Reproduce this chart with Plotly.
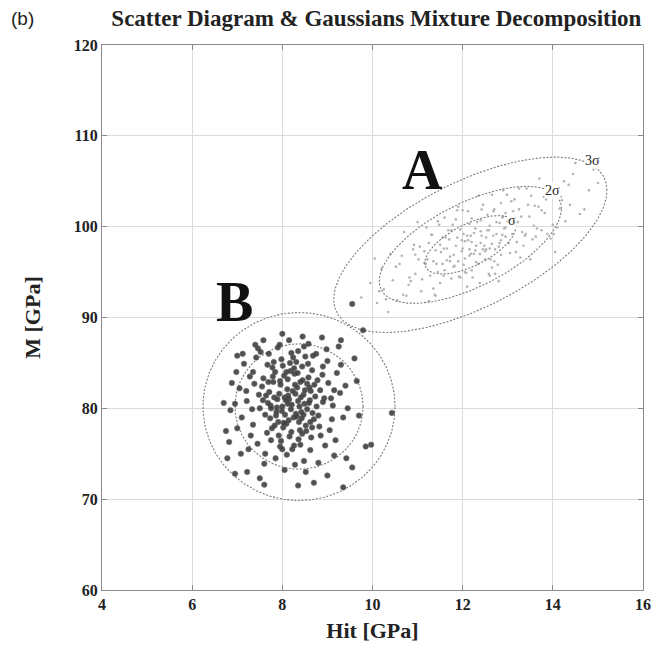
import numpy as np
import plotly.graph_objects as go

# ---------------- data ----------------
# cluster A (light gray points)
A_hit = [12.20, 12.05, 12.40, 11.85, 12.65, 11.60, 12.90, 11.95, 12.30, 12.75,
         11.40, 13.10, 12.15, 12.55, 11.75, 12.85, 11.25, 13.30, 12.00, 12.45,
         12.10, 12.35, 11.90, 12.60, 12.25, 11.70, 12.80, 12.50, 11.80, 13.00,
         12.15, 12.70, 11.55, 13.20, 12.40, 11.65, 12.95, 12.05, 12.55, 11.45,
         13.45, 10.95, 13.65, 10.80, 13.80, 11.10, 13.55, 10.60, 14.00, 11.30,
         13.15, 11.05, 12.65, 10.75, 13.90, 11.50, 14.20, 10.45, 13.35, 11.20,
         12.85, 11.35, 13.75, 10.90, 14.35, 10.30, 13.05, 11.85, 12.20, 12.95,
         13.60, 10.65, 14.10, 11.15, 12.45, 11.75, 13.40, 10.85, 12.70, 11.95,
         10.20, 14.60, 10.10, 14.45, 9.95, 14.80, 10.40, 13.95, 10.55, 14.25,
         11.00, 13.25, 11.60, 12.35, 12.80, 11.40, 13.50, 12.00, 12.60, 11.90,
         13.70, 10.70, 14.05, 11.25, 12.90, 10.35, 14.50, 12.10, 13.85, 11.55,
         12.25, 12.50, 11.65, 12.75, 12.30, 11.80, 12.95, 12.15, 12.40, 13.15,
         11.35, 12.60, 12.05, 11.50, 13.25, 10.95, 13.75, 11.15, 12.85, 12.20,
         9.75, 15.00, 10.05, 14.70, 10.25, 14.90, 14.15, 11.45, 12.65, 10.15,
         12.12, 12.48, 11.88, 12.72, 12.28, 11.72, 12.58, 12.02, 12.92, 11.52,
         12.38, 12.18, 11.98, 12.82, 12.62, 11.62, 13.02, 12.32, 11.82, 12.52,
         13.22, 11.42, 12.68, 12.08, 13.38, 11.22, 12.88, 11.68, 13.12, 11.92,
         12.42, 12.78, 11.78, 13.48, 12.22, 11.58, 13.08, 12.58, 11.32, 13.62,
         10.82, 14.18, 11.08, 13.88, 10.52, 14.38, 10.68, 13.52, 11.28, 14.02,
         12.98, 11.48, 13.28, 12.12, 12.72, 11.18, 13.68, 12.38, 11.88, 13.18,
         10.92, 14.28, 11.38, 13.42, 12.28, 12.88, 11.58, 13.82, 12.52, 11.02,
         13.32, 12.02, 12.68, 11.72, 13.58, 12.18, 12.82, 11.98, 13.02, 12.42]
A_m = [98.3, 96.5, 99.5, 97.9, 98.1, 95.2, 101.1, 99.7, 96.1, 99.2,
       97.4, 99.2, 97.5, 101.3, 94.3, 96.9, 98.2, 101.1, 97.6, 97.5,
       99.0, 95.9, 96.2, 100.1, 97.0, 98.6, 97.8, 96.4, 95.6, 100.6,
       100.3, 101.9, 98.8, 98.3, 98.2, 96.3, 98.9, 95.0, 99.6, 95.0,
       102.4, 96.9, 99.8, 93.6, 103.3, 94.2, 98.6, 95.9, 100.2, 99.1,
       103.0, 97.8, 95.5, 92.4, 104.1, 93.8, 102.9, 94.1, 97.9, 99.9,
       102.6, 93.2, 101.8, 97.5, 104.6, 92.0, 97.1, 100.8, 95.2, 101.5,
       102.3, 96.8, 99.9, 96.0, 102.4, 99.6, 99.2, 94.0, 96.2, 94.4,
       95.4, 101.4, 91.6, 105.8, 93.8, 104.0, 97.0, 98.7, 91.9, 105.0,
       100.5, 104.2, 101.0, 103.4, 94.0, 92.4, 96.4, 101.8, 94.6, 102.2,
       105.3, 99.4, 97.2, 91.8, 104.0, 90.6, 107.0, 93.4, 103.0, 95.9,
       99.3, 97.3, 97.6, 100.5, 97.9, 96.9, 99.9, 96.8, 100.7, 100.4,
       96.2, 97.6, 98.4, 98.0, 101.9, 94.8, 99.6, 97.3, 98.5, 100.9,
       92.2, 104.8, 96.5, 101.9, 93.1, 106.3, 102.0, 100.6, 103.5, 92.9,
       98.5, 97.9, 98.8, 97.5, 99.8, 96.2, 99.6, 95.8, 99.8, 97.2,
       97.0, 99.0, 97.3, 100.4, 96.4, 98.8, 98.2, 100.5, 95.7, 98.8,
       100.5, 95.9, 101.7, 94.9, 99.0, 96.4, 99.1, 99.6, 101.7, 94.5,
       101.9, 95.8, 100.2, 101.1, 94.4, 94.6, 102.8, 94.8, 99.1, 98.9,
       94.4, 103.3, 92.9, 99.2, 95.6, 102.4, 92.5, 103.4, 94.6, 99.2,
       103.5, 100.2, 96.6, 101.7, 94.8, 95.9, 102.2, 93.8, 101.8, 97.2,
       98.0, 100.6, 92.5, 104.2, 97.4, 101.0, 97.6, 101.5, 97.5, 96.4,
       99.4, 99.2, 99.0, 96.7, 100.1, 97.0, 98.2, 98.5, 100.7, 99.0]

# cluster B (dark points)
B_hit = [8.21, 8.05, 8.42, 7.88, 8.33, 8.61, 7.71, 8.14, 8.52, 7.95,
         8.27, 8.71, 7.62, 8.39, 8.02, 8.80, 7.80, 8.47, 8.11, 7.68,
         8.58, 8.93, 7.91, 8.25, 8.66, 7.55, 8.18, 8.44, 7.84, 8.76,
         8.35, 7.99, 8.08, 8.29, 8.55, 7.77, 8.16, 8.89, 7.58, 8.40,
         8.01, 7.73, 8.63, 8.37, 7.93, 8.12, 8.49, 8.20, 7.86, 8.70,
         8.31, 7.67, 8.57, 8.84, 7.98, 8.23, 8.06, 8.45, 7.82, 8.67,
         7.21, 7.35, 7.28, 9.12, 9.05, 9.21, 7.45, 8.10, 8.62, 8.95,
         7.62, 8.35, 7.90, 8.75, 7.42, 9.28, 7.10, 7.05, 9.35, 8.48,
         7.85, 7.40, 8.58, 9.00, 7.15, 9.18, 7.30, 8.28, 8.90, 7.52,
         8.15, 9.40, 7.00, 7.20, 9.10, 7.60, 8.80, 9.30, 7.95, 8.40,
         7.50, 9.02, 8.68, 7.70, 7.25, 6.95, 9.45, 8.22, 7.75, 8.85,
         7.35, 8.98, 7.58, 8.05, 8.52, 9.15, 7.12, 9.25, 6.98, 7.08,
         6.75, 6.82, 6.78, 6.85, 6.88, 7.00, 7.46, 8.00, 8.45, 8.88,
         9.30, 9.60, 9.65, 9.70, 10.43, 9.97, 9.85, 9.55, 9.35, 9.42,
         8.70, 8.35, 7.60, 7.22, 6.95, 7.50, 9.00, 9.79, 9.55, 6.70,
         8.15, 8.30, 7.96, 8.50, 8.09, 8.38, 7.74, 8.62, 8.26, 7.89,
         8.44, 8.04, 8.73, 7.64, 8.19, 8.55, 7.83, 8.34, 8.00, 8.66,
         7.92, 8.24, 8.47, 7.79, 8.13, 8.59, 7.69, 8.36, 8.03, 8.82,
         7.57, 8.28, 8.51, 7.87, 8.17, 8.41, 7.97, 8.64, 8.09, 7.75,
         8.32, 8.90, 7.48, 8.20, 8.53, 7.66, 9.08, 7.38, 8.78, 8.00,
         7.81, 8.43, 8.26, 7.94, 8.60, 7.33, 9.15, 7.78, 8.48, 8.12]
B_m = [80.4, 81.2, 79.6, 80.1, 82.3, 80.9, 81.8, 78.7, 78.1, 83.0,
       83.8, 82.6, 79.3, 77.6, 77.9, 79.2, 82.9, 81.5, 82.1, 80.6,
       83.4, 81.1, 78.5, 79.0, 77.9, 82.4, 84.1, 84.6, 84.0, 80.2,
       80.8, 79.7, 80.9, 81.6, 79.9, 77.8, 76.9, 83.7, 83.3, 82.9,
       84.7, 78.9, 81.9, 78.5, 81.6, 83.2, 80.5, 77.4, 79.2, 78.8,
       85.1, 84.8, 84.9, 82.0, 85.4, 81.9, 79.3, 83.1, 81.2, 79.5,
       80.8, 78.2, 83.5, 80.3, 77.6, 83.9, 76.1, 74.9, 75.4, 75.9,
       75.0, 86.3, 86.7, 86.0, 85.6, 81.7, 79.0, 82.2, 79.0, 74.2,
       74.5, 87.0, 87.1, 85.2, 84.9, 76.5, 77.0, 73.8, 84.6, 86.2,
       87.5, 82.5, 77.8, 81.9, 78.8, 73.9, 74.0, 84.8, 75.8, 76.0,
       80.0, 82.8, 85.8, 86.0, 75.5, 80.5, 80.0, 75.5, 76.5, 77.0,
       84.0, 86.5, 87.5, 73.2, 73.0, 74.8, 86.0, 86.8, 84.0, 75.0,
       77.5, 76.3, 74.5, 79.8, 82.8, 85.8, 86.6, 88.2, 87.9, 87.8,
       87.5, 85.5, 83.0, 79.2, 79.5, 76.0, 75.8, 73.5, 71.3, 74.5,
       71.8, 71.5, 71.6, 73.0, 72.8, 72.3, 72.6, 88.6, 91.5, 80.6,
       81.0, 79.4, 82.6, 82.0, 78.3, 80.2, 80.3, 78.5, 84.4, 81.0,
       77.2, 83.6, 81.3, 81.4, 79.9, 82.7, 78.1, 83.9, 80.2, 84.2,
       77.0, 85.6, 79.3, 83.5, 81.4, 80.6, 82.9, 76.6, 78.4, 78.0,
       80.9, 82.6, 85.7, 79.6, 85.0, 81.2, 76.4, 76.8, 84.0, 80.0,
       79.1, 80.7, 81.5, 86.1, 77.5, 77.3, 81.1, 82.7, 83.1, 75.5,
       85.1, 78.9, 75.9, 87.0, 82.3, 79.9, 82.0, 84.5, 86.8, 80.5]

# Gaussian mixture components: mean, sigmas, correlation
A_mean = (12.17, 98.0)
A_sigma = (1.01, 3.22)
A_rho = 0.62
B_mean = (8.37, 80.2)
B_sigma = (0.71, 3.45)
B_rho = 0.0

A_levels = [1, 2, 3]
B_levels = [2, 3]
sigma_labels = ["σ", "2σ", "3σ"]
sigma_label_x = [13.1, 14.0, 14.87]
sigma_label_y = [100.7, 104.0, 107.3]

x_ticks = [4, 6, 8, 10, 12, 14, 16]
y_ticks = [60, 70, 80, 90, 100, 110, 120]


def ellipse(mean, sigma, rho, k, n=300):
    t = np.linspace(0, 2 * np.pi, n)
    cov = np.array([[sigma[0] ** 2, rho * sigma[0] * sigma[1]],
                    [rho * sigma[0] * sigma[1], sigma[1] ** 2]])
    L = np.linalg.cholesky(cov)
    circ = np.vstack([np.cos(t), np.sin(t)]) * k
    pts = L @ circ
    return mean[0] + pts[0], mean[1] + pts[1]


SERIF = "Liberation Serif"
LINE = dict(color="#7a7a7a", width=1.1, dash="2px,1.6px")
fig = go.Figure()

fig.add_trace(go.Scatter(x=A_hit, y=A_m, mode="markers",
                         marker=dict(size=2.6, color="#b4b4b4"),
                         showlegend=False, hoverinfo="skip"))

for k in A_levels:
    ex, ey = ellipse(A_mean, A_sigma, A_rho, k)
    fig.add_trace(go.Scatter(x=ex, y=ey, mode="lines", line=LINE,
                             showlegend=False, hoverinfo="skip"))
for k in B_levels:
    ex, ey = ellipse(B_mean, B_sigma, B_rho, k)
    fig.add_trace(go.Scatter(x=ex, y=ey, mode="lines", line=LINE,
                             showlegend=False, hoverinfo="skip"))

fig.add_trace(go.Scatter(x=B_hit, y=B_m, mode="markers",
                         marker=dict(size=5.5, color="#3a3a3a", opacity=0.88,
                                     line=dict(width=0.6, color="#5a5a5a")),
                         showlegend=False, hoverinfo="skip"))

for lab, lx, ly in zip(sigma_labels, sigma_label_x, sigma_label_y):
    fig.add_annotation(x=lx, y=ly, text=lab, showarrow=False,
                       font=dict(family=SERIF, size=14, color="#222"),
                       bgcolor="white", borderpad=0)

fig.add_annotation(x=11.1, y=106.2, text="<b>A</b>", showarrow=False,
                   font=dict(family=SERIF, size=56, color="#111"))
fig.add_annotation(x=6.93, y=91.7, text="<b>B</b>", showarrow=False,
                   font=dict(family=SERIF, size=56, color="#111"))

fig.add_annotation(xref="paper", yref="paper", x=-0.172, y=1.048,
                   xanchor="left", yanchor="middle", text="(b)", showarrow=False,
                   font=dict(family="Liberation Sans", size=19, color="#222"))

axis_common = dict(showgrid=True, gridcolor="#dcdcdc", gridwidth=1,
                   showline=True, linecolor="#8a8a8a", linewidth=1.2,
                   mirror="ticks", ticks="inside", ticklen=5,
                   tickcolor="#8a8a8a", zeroline=False,
                   tickfont=dict(family=SERIF, size=16, color="#222"))

fig.update_layout(
    width=665, height=653,
    margin=dict(l=102, r=22, t=45, b=63),
    paper_bgcolor="white", plot_bgcolor="white",
    title=dict(text="<b>Scatter Diagram & Gaussians Mixture Decomposition</b>",
               x=0.566, xanchor="center", y=0.972, yanchor="middle",
               font=dict(family=SERIF, size=23, color="#222")),
    xaxis=dict(range=[4, 16], tickvals=x_ticks,
               ticktext=[f"<b>{v}</b>" for v in x_ticks],
               title=dict(text="<b>Hit [GPa]</b>", standoff=10,
                          font=dict(family=SERIF, size=22, color="#222")),
               **axis_common),
    yaxis=dict(range=[60, 120], tickvals=y_ticks,
               ticktext=[f"<b>{v}</b>" for v in y_ticks],
               title=dict(text="<b>M [GPa]</b>", standoff=27,
                          font=dict(family=SERIF, size=22, color="#222")),
               **axis_common),
)

fig.write_html("out.html")
